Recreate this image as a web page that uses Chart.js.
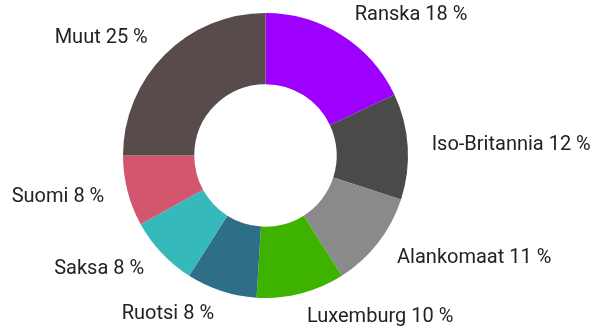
<!DOCTYPE html>
<html>
<head>
<meta charset="utf-8">
<script src="https://cdn.jsdelivr.net/npm/chart.js@4"></script>
<style>
  html, body { margin: 0; padding: 0; background: #fff; }
  #wrap { width: 592px; height: 332px; }
</style>
</head>
<body>
<div id="wrap"><canvas id="kaavio"></canvas></div>
<script>
const maat = ["Ranska", "Iso-Britannia", "Alankomaat", "Luxemburg", "Ruotsi", "Saksa", "Suomi", "Muut"];
const osuudet = [18, 12, 11, 10, 8, 8, 8, 25];
const varit = ["#9d00ff", "#4a4a4a", "#8a8a8a", "#3db300", "#2e6e87", "#36b9bb", "#d4566e", "#574b4b"];

// nimi + prosentti jokaisen sektorin ulkopuolelle
const nimiLabelit = {
    id: "nimiLabelit",
    afterDatasetsDraw(chart) {
        const ctx = chart.ctx;
        const meta = chart.getDatasetMeta(0);
        ctx.save();
        ctx.font = "20px Roboto";
        ctx.fillStyle = "#222";
        ctx.textBaseline = "middle";
        meta.data.forEach((arc, i) => {
            const kulma = (arc.startAngle + arc.endAngle) / 2;
            const r = arc.outerRadius + 24;
            const x = arc.x + Math.cos(kulma) * r;
            const y = arc.y + Math.sin(kulma) * r;
            ctx.textAlign = x >= arc.x ? "left" : "right";
            ctx.fillText(maat[i] + " " + osuudet[i] + " %", x, y);
        });
        ctx.restore();
    }
};

new Chart(document.getElementById("kaavio"), {
    type: "doughnut",
    data: {
        labels: maat,
        datasets: [{
            data: osuudet,
            backgroundColor: varit,
            borderWidth: 0
        }]
    },
    options: {
        responsive: true,
        maintainAspectRatio: false,
        animation: false,
        cutout: "50%",
        layout: { padding: { top: 13, bottom: 34, left: 0, right: 61 } },
        plugins: {
            legend: { display: false },
            tooltip: { enabled: false }
        }
    },
    plugins: [nimiLabelit]
});
</script>
</body>
</html>
